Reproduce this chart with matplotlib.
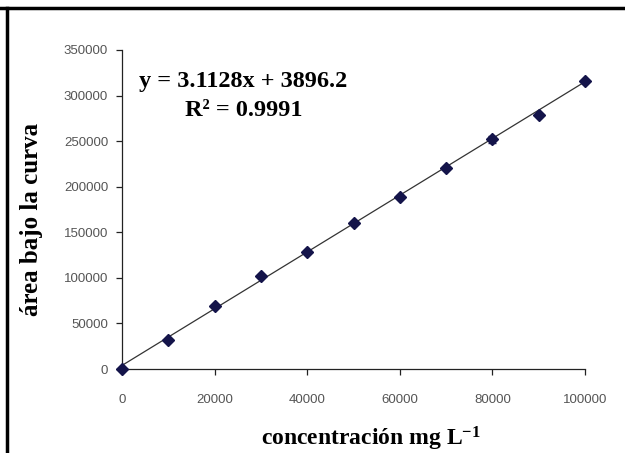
import matplotlib
matplotlib.use("Agg")
import matplotlib.pyplot as plt
from matplotlib.lines import Line2D
import numpy as np

# Data
conc = [0, 10000, 20000, 30000, 40000, 50000, 60000, 70000, 80000, 90000, 100000]
area = [0, 32000, 69000, 102000, 128000, 160000, 189000, 220000, 252000, 279000, 316000]
area_err = [0, 0, 0, 0, 0, 0, 0, 0, 4000, 0, 0]
slope = 3.1128
intercept = 3896.2
r2 = 0.9991
xticks = [0, 20000, 40000, 60000, 80000, 100000]
yticks = [0, 50000, 100000, 150000, 200000, 250000, 300000, 350000]

plt.rcParams['mathtext.fontset'] = 'custom'
plt.rcParams['mathtext.rm'] = 'Liberation Serif:bold'
plt.rcParams['mathtext.it'] = 'Liberation Serif:bold'
plt.rcParams['mathtext.bf'] = 'Liberation Serif:bold'
plt.rcParams['mathtext.default'] = 'rm'

fig = plt.figure(figsize=(6.25, 4.53), dpi=100)
fig.patch.set_facecolor('white')
ax = fig.add_axes([122/625, 1-369/453, 463/625, 319/453])

xs = np.array([min(conc), max(conc)])
ax.plot(xs, slope*xs + intercept, color='#333333', lw=0.9, zorder=2)
ax.errorbar(conc, area, yerr=area_err, fmt='none', ecolor='#1a1a50', elinewidth=1, capsize=3, zorder=3)
ax.plot(conc, area, linestyle='none', marker='D', markersize=6, color='#14144a', zorder=4)

ax.set_xlim(0, 100000)
ax.set_ylim(0, 350000)
ax.set_xticks(xticks)
ax.set_yticks(yticks)
ax.set_xticklabels([str(v) for v in xticks])
ax.set_yticklabels([str(v) for v in yticks])
for s in ['top', 'right']:
    ax.spines[s].set_visible(False)
for s in ['left', 'bottom']:
    ax.spines[s].set_color('#222222')
    ax.spines[s].set_linewidth(0.9)
ax.tick_params(axis='both', direction='out', length=4, width=0.9, color='#222222',
               labelsize=9.5, labelcolor='#555555')
ax.tick_params(axis='x', pad=14)
ax.tick_params(axis='y', pad=6)
for lab in ax.get_xticklabels() + ax.get_yticklabels():
    lab.set_family('Liberation Sans')
for line in ax.lines:
    line.set_clip_on(False)

ax.set_xlabel('concentración mg L$^{-1}$', fontfamily='Liberation Serif', fontweight='bold',
              fontsize=17)
ax.xaxis.set_label_coords(0.538, -0.175)
ax.set_ylabel('área bajo la curva', fontfamily='Liberation Serif', fontweight='bold',
              fontsize=18)
ax.yaxis.set_label_coords(-0.17, 0.47)

ax.text(0.262, 0.90, 'y = %.4fx + %.1f' % (slope, intercept), transform=ax.transAxes,
        ha='center', va='center', fontfamily='Liberation Serif', fontweight='bold', fontsize=17.5)
ax.text(0.262, 0.809, 'R² = %.4f' % r2, transform=ax.transAxes,
        ha='center', va='center', fontfamily='Liberation Serif', fontweight='bold', fontsize=17.5)

# black frame (top and left)
fig.add_artist(Line2D([0, 1], [1-8/453, 1-8/453], color='black', lw=2.5, transform=fig.transFigure))
fig.add_artist(Line2D([6.5/625, 6.5/625], [0, 1-8/453], color='black', lw=2.5, transform=fig.transFigure))

fig.savefig('out.png', dpi=100, facecolor='white')
